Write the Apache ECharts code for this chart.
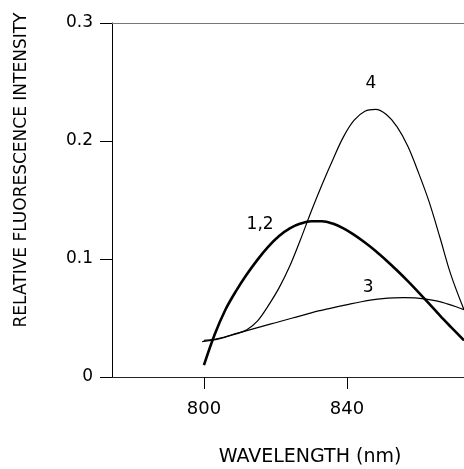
<!DOCTYPE html>
<html>
<head>
<meta charset="utf-8">
<script src="https://cdn.jsdelivr.net/npm/echarts@6/dist/echarts.min.js"></script>
<style>html,body{margin:0;padding:0;background:#fff;}#c{width:464px;height:469px;}</style>
</head>
<body>
<div id="c"></div>
<script>
// Curve "1,2"
var wl12 = [800, 803, 806, 809, 812, 815, 818, 821, 824, 827, 830, 833, 836, 839, 842, 845, 848, 851, 854, 857, 860, 863, 866, 869, 872.7];
var int12 = [0.010, 0.036, 0.057, 0.073, 0.087, 0.0995, 0.1105, 0.1195, 0.126, 0.130, 0.132, 0.132, 0.130, 0.126, 0.1205, 0.114, 0.1068, 0.0988, 0.0903, 0.0813, 0.0718, 0.062, 0.052, 0.0425, 0.031];
// Curve "3"
var wl3 = [799.5, 802, 805, 808, 811, 814, 817, 820, 823, 826, 829, 832, 835, 838, 841, 844, 847, 850, 853, 856, 859, 862, 865, 868, 870.5, 872.7];
var int3 = [0.030, 0.031, 0.033, 0.036, 0.0385, 0.041, 0.0435, 0.046, 0.0485, 0.051, 0.0535, 0.056, 0.058, 0.060, 0.062, 0.0638, 0.0653, 0.0664, 0.067, 0.0672, 0.067, 0.066, 0.0645, 0.062, 0.0595, 0.057];
// Curve "4"
var wl4 = [800, 803, 806, 809, 812, 815, 818, 821, 824, 827, 830, 833, 836, 839, 842, 845, 848, 851, 854, 857, 860, 863, 866, 869, 872.7];
var int4 = [0.031, 0.032, 0.034, 0.0365, 0.040, 0.0475, 0.0605, 0.0755, 0.094, 0.1165, 0.1405, 0.163, 0.184, 0.2035, 0.2176, 0.2252, 0.2268, 0.2224, 0.212, 0.1956, 0.173, 0.148, 0.118, 0.087, 0.057];
// Curve labels (data coordinates)
var curveNames = ['1,2', '3', '4'];
var labelWl = [815.7, 845.9, 846.7];
var labelInt = [0.1288, 0.0754, 0.249];
// Axis ticks
var xTicks = [800, 840];
var yTicks = [0, 0.1, 0.2, 0.3];
var xTitle = 'WAVELENGTH (nm)';
var yTitle = 'RELATIVE FLUORESCENCE INTENSITY';

function pairs(xs, ys) { return xs.map(function (x, i) { return [x, ys[i]]; }); }
function lbl(i) {
  return {
    symbol: 'circle', symbolSize: 2, itemStyle: { color: 'rgba(0,0,0,0)' },
    label: { show: true, position: 'inside', color: '#000', fontSize: 17, fontFamily: 'DejaVu Sans', formatter: curveNames[i] },
    data: [{ coord: [labelWl[i], labelInt[i]] }]
  };
}
var FONT = 'DejaVu Sans';
var chart = echarts.init(document.getElementById('c'), null, { renderer: 'canvas' });
chart.setOption({
  animation: false,
  backgroundColor: '#fff',
  grid: { left: 112, top: 23, right: 0, bottom: 92, containLabel: false },
  xAxis: [{
    type: 'value', min: 774.3, max: 872.7, position: 'bottom',
    axisLine: { show: true, onZero: false, lineStyle: { color: '#222', width: 1 } },
    axisTick: { show: true, length: 12, inside: false, customValues: xTicks, lineStyle: { color: '#000', width: 1 } },
    axisLabel: { show: true, customValues: xTicks, margin: 23, color: '#000', fontSize: 18, fontFamily: FONT },
    splitLine: { show: false }
  }, {
    type: 'value', min: 774.3, max: 872.7, position: 'top',
    axisLine: { show: true, onZero: false, lineStyle: { color: '#777', width: 1 } },
    axisTick: { show: false }, axisLabel: { show: false }, splitLine: { show: false }
  }],
  yAxis: {
    type: 'value', min: 0, max: 0.3, interval: 0.1,
    axisLine: { show: true, onZero: false, lineStyle: { color: '#000', width: 1 } },
    axisTick: { show: true, length: 12, lineStyle: { color: '#000', width: 1 } },
    axisLabel: { margin: 19, color: '#000', fontSize: 17, fontFamily: FONT,
      formatter: function (v) { return yTicks.indexOf(Math.round(v * 10) / 10) >= 0 ? String(Math.round(v * 10) / 10) : ''; } },
    splitLine: { show: false }
  },
  graphic: [
    { type: 'text', x: 22, y: 170, rotation: Math.PI / 2,
      style: { text: yTitle, fontSize: 17, fontFamily: FONT, fill: '#000', align: 'center', verticalAlign: 'middle' } },
    { type: 'text', x: 310, y: 457,
      style: { text: xTitle, fontSize: 19, fontFamily: FONT, fill: '#000', align: 'center', verticalAlign: 'middle' } }
  ],
  series: [
    { name: '3', type: 'line', smooth: 0.35, showSymbol: false, data: pairs(wl3, int3),
      lineStyle: { color: '#000', width: 1.2 }, markPoint: lbl(1) },
    { name: '4', type: 'line', smooth: 0.35, showSymbol: false, data: pairs(wl4, int4),
      lineStyle: { color: '#000', width: 1.2 }, markPoint: lbl(2) },
    { name: '1,2', type: 'line', smooth: 0.35, showSymbol: false, data: pairs(wl12, int12),
      lineStyle: { color: '#000', width: 2.6 }, markPoint: lbl(0) }
  ]
});
</script>
</body>
</html>
